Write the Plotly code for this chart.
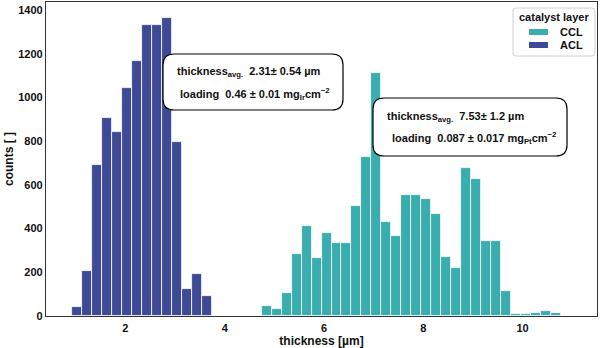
import plotly.graph_objects as go

# ---------------- data ----------------
bin_start = 0.915          # left edge of the first common histogram bin [µm]
bin_width = 0.2014         # common bin width [µm]

acl_first_bin = 0
acl_counts = [40, 208, 689, 906, 842, 1045, 1165, 1333, 1334, 1366, 796, 122, 191, 91]

ccl_first_bin = 19
ccl_counts = [46, 31, 103, 284, 413, 266, 381, 336, 332, 503, 727, 1114, 431, 368,
              555, 555, 536, 468, 269, 220, 679, 625, 341, 341, 113, 8, 9, 14, 23, 13]

x_ticks = [2, 4, 6, 8, 10]
y_ticks = [0, 200, 400, 600, 800, 1000, 1200, 1400]

series_names = ["CCL", "ACL"]
ccl_color = "#3AADAE"
acl_color = "#3E4A96"

acl_text = ["thickness<sub>avg.</sub>\u00a0\u00a02.31± 0.54 µm",
            "loading\u00a0\u00a00.46 ± 0.01 mg<sub>Ir</sub>cm<sup>−2</sup>"]
ccl_text = ["thickness<sub>avg.</sub>\u00a0\u00a07.53± 1.2 µm",
            "loading\u00a0\u00a00.087 ± 0.017 mg<sub>Pt</sub>cm<sup>−2</sup>"]

# ---------------- layout geometry ----------------
W, H = 600, 348
ML, MR, MT, MB = 46, 3, 2, 32
PW, PH = W - ML - MR, H - MT - MB
FONT = "Liberation Sans, Arial, Helvetica, sans-serif"


def px(xp):
    return (xp - ML) / PW


def py(yp):
    return (H - MB - yp) / PH


def centers(first, counts):
    return [bin_start + (first + i + 0.5) * bin_width for i in range(len(counts))]


def round_rect(x0, y0, x1, y1, r):
    rx, ry = r / PW, r / PH
    a0, a1 = px(x0), px(x1)
    b0, b1 = py(y1), py(y0)  # bottom, top in paper coords
    return (f"M{a0+rx},{b1} L{a1-rx},{b1} Q{a1},{b1} {a1},{b1-ry} "
            f"L{a1},{b0+ry} Q{a1},{b0} {a1-rx},{b0} L{a0+rx},{b0} "
            f"Q{a0},{b0} {a0},{b0+ry} L{a0},{b1-ry} Q{a0},{b1} {a0+rx},{b1} Z")


fig = go.Figure()
fig.add_trace(go.Bar(x=centers(ccl_first_bin, ccl_counts), y=ccl_counts, width=bin_width,
                     name=series_names[0], marker=dict(color=ccl_color, line=dict(color="white", width=0.8)),
                     showlegend=False))
fig.add_trace(go.Bar(x=centers(acl_first_bin, acl_counts), y=acl_counts, width=bin_width,
                     name=series_names[1], marker=dict(color=acl_color, line=dict(color="white", width=0.8)),
                     showlegend=False))

shapes = []
annotations = []

# annotation boxes
for (x0, y0, x1, y1), lines, starts, ys in [
    ((163, 54, 343, 110), acl_text, (175, 178), (72, 94)),
    ((373, 98, 567, 156), ccl_text, (385, 390), (117, 138)),
]:
    shapes.append(dict(type="path", path=round_rect(x0, y0, x1, y1, 11), xref="paper", yref="paper",
                       fillcolor="white", line=dict(color="black", width=1.2), layer="above"))
    for t, xs, yv in zip(lines, starts, ys):
        annotations.append(dict(text=t, x=px(xs), y=py(yv), xref="paper", yref="paper",
                                xanchor="left", yanchor="middle", showarrow=False,
                                font=dict(family=FONT, size=11, color="#111", weight="bold")))

# custom legend
shapes.append(dict(type="path", path=round_rect(513, 8, 595, 56, 3), xref="paper", yref="paper",
                   fillcolor="white", line=dict(color="#d0d0d0", width=1), layer="above"))
annotations.append(dict(text="catalyst layer", x=px(554), y=py(16.5), xref="paper", yref="paper",
                        xanchor="center", yanchor="middle", showarrow=False,
                        font=dict(family=FONT, size=11, color="#111", weight="bold")))
for name, col, yv in [(series_names[0], ccl_color, 32), (series_names[1], acl_color, 45)]:
    shapes.append(dict(type="rect", x0=px(529), x1=px(548), y0=py(yv + 3), y1=py(yv - 3),
                       xref="paper", yref="paper", fillcolor=col, line=dict(width=0), layer="above"))
    annotations.append(dict(text=name, x=px(557.5), y=py(yv), xref="paper", yref="paper",
                            xanchor="left", yanchor="middle", showarrow=False,
                            font=dict(family=FONT, size=11, color="#111", weight="bold")))

axis_common = dict(showgrid=False, zeroline=False, showline=True, mirror=True,
                   linecolor="#333333", linewidth=1.2, ticks="",
                   tickfont=dict(family=FONT, size=11, color="#111", weight="bold"))

fig.update_layout(
    width=W, height=H,
    margin=dict(l=ML, r=MR, t=MT, b=MB),
    paper_bgcolor="white", plot_bgcolor="white",
    barmode="overlay", bargap=0,
    shapes=shapes, annotations=annotations,
    xaxis=dict(range=[0.4, 11.5], tickvals=x_ticks, ticklabelstandoff=2,
               title=dict(text="thickness [µm]", standoff=2,
                          font=dict(family=FONT, size=12, color="#111", weight="bold")),
               **axis_common),
    yaxis=dict(range=[0, 1437], tickvals=y_ticks,
               title=dict(text="counts [ ]", standoff=2,
                          font=dict(family=FONT, size=12, color="#111", weight="bold")),
               **axis_common),
)

fig.write_html("out.html")
